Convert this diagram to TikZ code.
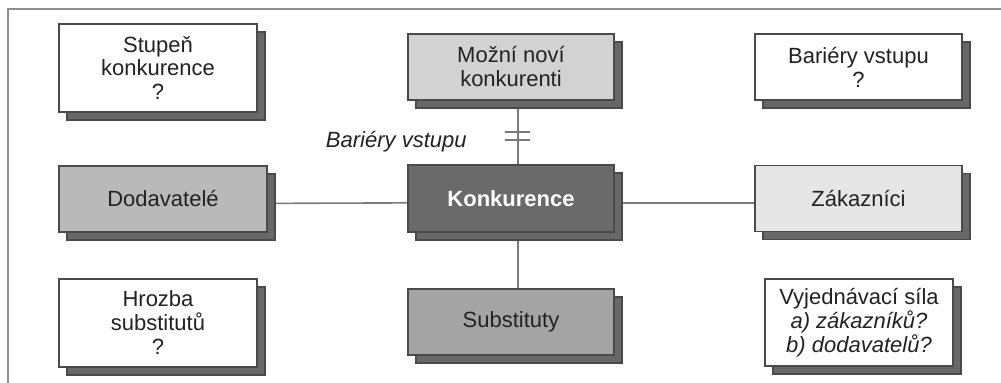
\documentclass[tikz,border=0pt]{standalone}
\usepackage{fontspec}
\setmainfont{Liberation Sans}
\usetikzlibrary{shadows,backgrounds,calc}
\definecolor{txt}{HTML}{222222}
\definecolor{boxline}{HTML}{4A4A4A}
\definecolor{shadowc}{HTML}{686868}
\definecolor{framec}{HTML}{8E8E8E}
\definecolor{connc}{HTML}{7A7A7A}
\definecolor{fmozni}{HTML}{D2D2D2}
\definecolor{fdodav}{HTML}{B9B9B9}
\definecolor{fkonk}{HTML}{6A6A6A}
\definecolor{fsubst}{HTML}{A4A4A4}
\definecolor{fzakaz}{HTML}{E6E6E6}
\begin{document}
\begin{tikzpicture}[x=0.5pt,y=-0.5pt,
  box/.style={draw=boxline, line width=0.6pt, align=center, text=txt,
    font=\fontsize{11}{12}\selectfont, inner sep=0pt,
    copy shadow={shadow xshift=4pt, shadow yshift=-4pt, fill=shadowc, draw=boxline, line width=0.6pt}},
  smallbox/.style={box, minimum width=103pt, minimum height=33pt},
  bigbox/.style={box, minimum width=99pt, minimum height=44pt},
  conn/.style={draw=connc, line width=0.8pt},
  framel/.style={draw=framec, line width=0.8pt}]
\useasboundingbox (0,0) rectangle (1001,383);
\draw[framel] (8,383) -- (8,9) -- (1001,9);

\node[bigbox, fill=white] (stupen) at (158,68) {Stupeň\\konkurence\\?};
\node[smallbox, fill=fmozni] (mozni) at (511,67) {Možní noví\\konkurenti};
\node[smallbox, fill=white, minimum width=103.5pt] (barq) at (858.5,67) {Bariéry vstupu\\?};

\node[smallbox, fill=fdodav, minimum width=104pt] (dodav) at (163,199) {Dodavatelé};
\node[smallbox, fill=fkonk, text=white, font=\fontsize{11}{12}\selectfont\bfseries, minimum height=33.5pt] (konk) at (511,198.5) {Konkurence};
\node[smallbox, fill=fzakaz, minimum width=103.5pt] (zakaz) at (858.5,198.5) {Zákazníci};

\node[bigbox, fill=white] (hrozba) at (158,323) {Hrozba\\substitutů\\?};
\node[smallbox, fill=fsubst] (subst) at (511,322) {Substituty};
\node[box, fill=white, minimum width=94pt, minimum height=43.5pt] (vyjed) at (859,322.5) {Vyjednávací síla\\\textit{a) zákazníků?}\\\textit{b) dodavatelů?}};

\begin{scope}[on background layer]
\draw[conn] ([xshift=3.5pt]mozni.south) -- ([xshift=3.5pt]konk.north);
\draw[conn] ([xshift=3.5pt]konk.south) -- ([xshift=3.5pt]subst.north);
\draw[conn] ([yshift=-2.2pt]dodav.east) -- ([yshift=-2.2pt]konk.west);
\draw[conn] ([yshift=-2.2pt]konk.east) -- ([yshift=-2.2pt]zakaz.west);
\end{scope}

\coordinate (bm) at (518,136);
\draw[conn] ([xshift=-6.5pt,yshift=2pt]bm) -- ([xshift=6pt,yshift=2pt]bm);
\draw[conn] ([xshift=-6.5pt,yshift=-2pt]bm) -- ([xshift=6pt,yshift=-2pt]bm);

\node[anchor=east, text=txt, inner sep=0pt, font=\fontsize{11}{12}\selectfont\itshape] (blabel) at (467,142) {Bariéry vstupu};
\end{tikzpicture}
\end{document}
